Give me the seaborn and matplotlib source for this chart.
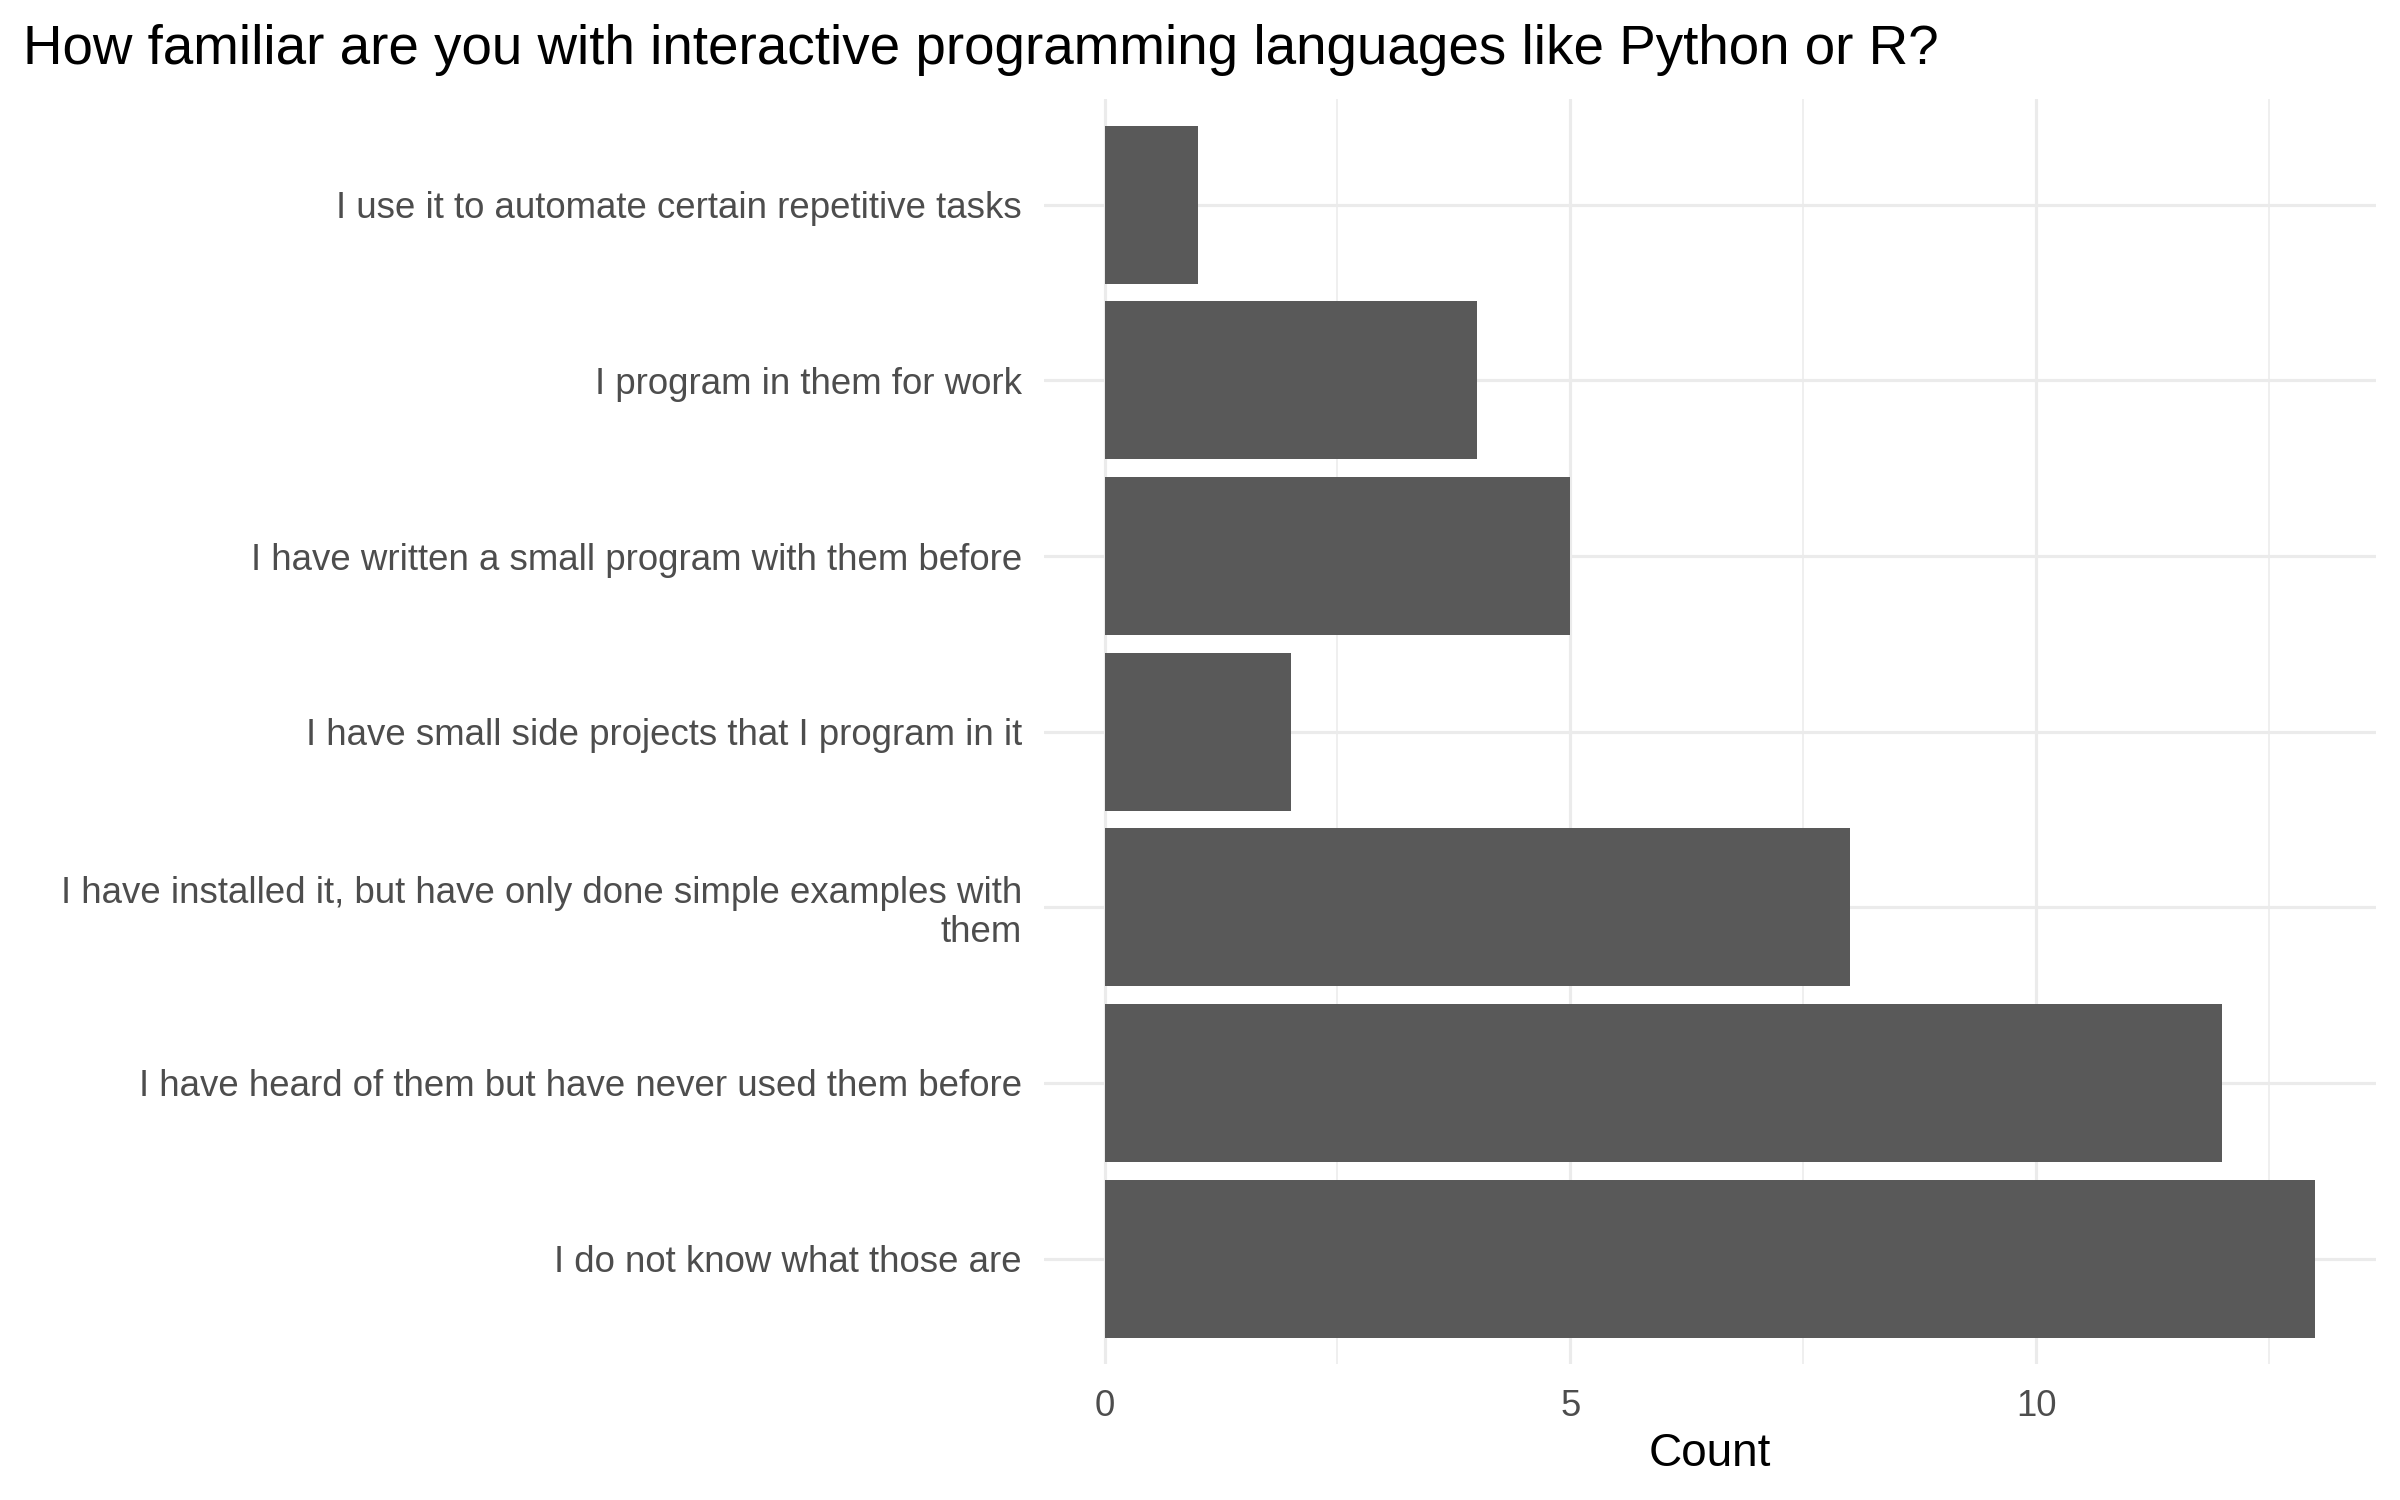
import matplotlib
matplotlib.use("Agg")
import matplotlib.pyplot as plt
import seaborn as sns
import pandas as pd

categories = [
    "I use it to automate certain repetitive tasks",
    "I program in them for work",
    "I have written a small program with them before",
    "I have small side projects that I program in it",
    "I have installed it, but have only done simple examples with\nthem",
    "I have heard of them but have never used them before",
    "I do not know what those are",
]
counts = [1, 4, 5, 2, 8, 12, 13]
title = "How familiar are you with interactive programming languages like Python or R?"
x_label = "Count"
x_ticks = [0, 5, 10]
x_minor = [2.5, 7.5, 12.5]

sns.set_theme(style="white")
plt.rcParams["font.family"] = ["Liberation Sans", "DejaVu Sans"]

df = pd.DataFrame({"response": categories, "count": counts})

fig = plt.figure(figsize=(16, 10), dpi=150)
ax = fig.add_axes([0.435, 0.0907, 0.555, 0.8430])

sns.barplot(data=df, y="response", x="count", order=categories, orient="h",
            color="#595959", saturation=1, width=0.9, ax=ax, zorder=3)
for p in ax.patches:
    p.set_edgecolor("none")

n = len(categories)
ax.set_ylim(n - 1 + 0.6, -0.6)
xmax = max(counts)
ax.set_xlim(-0.05 * xmax, xmax * 1.05)

ax.set_xticks(x_ticks)
ax.set_xticks(x_minor, minor=True)
ax.grid(True, which="major", axis="both", color="#EBEBEB", linewidth=1.5, zorder=0)
ax.grid(True, which="minor", axis="x", color="#EBEBEB", linewidth=0.75, zorder=0)
ax.set_axisbelow(True)
for s in ax.spines.values():
    s.set_visible(False)

ax.tick_params(axis="both", which="both", length=0)
ax.tick_params(axis="y", pad=10.5, labelsize=17.6, labelcolor="#4D4D4D")
ax.tick_params(axis="x", pad=12, labelsize=17.5, labelcolor="#4D4D4D")
for lab in ax.get_yticklabels():
    lab.set_linespacing(1.15)

ax.set_ylabel("")
ax.set_xlabel(x_label, fontsize=22, color="black", labelpad=4)

fig.text(0.0095, 0.957, title, fontsize=26.3, color="black", ha="left", va="baseline")

fig.savefig("out.png", dpi=150, facecolor="white")
